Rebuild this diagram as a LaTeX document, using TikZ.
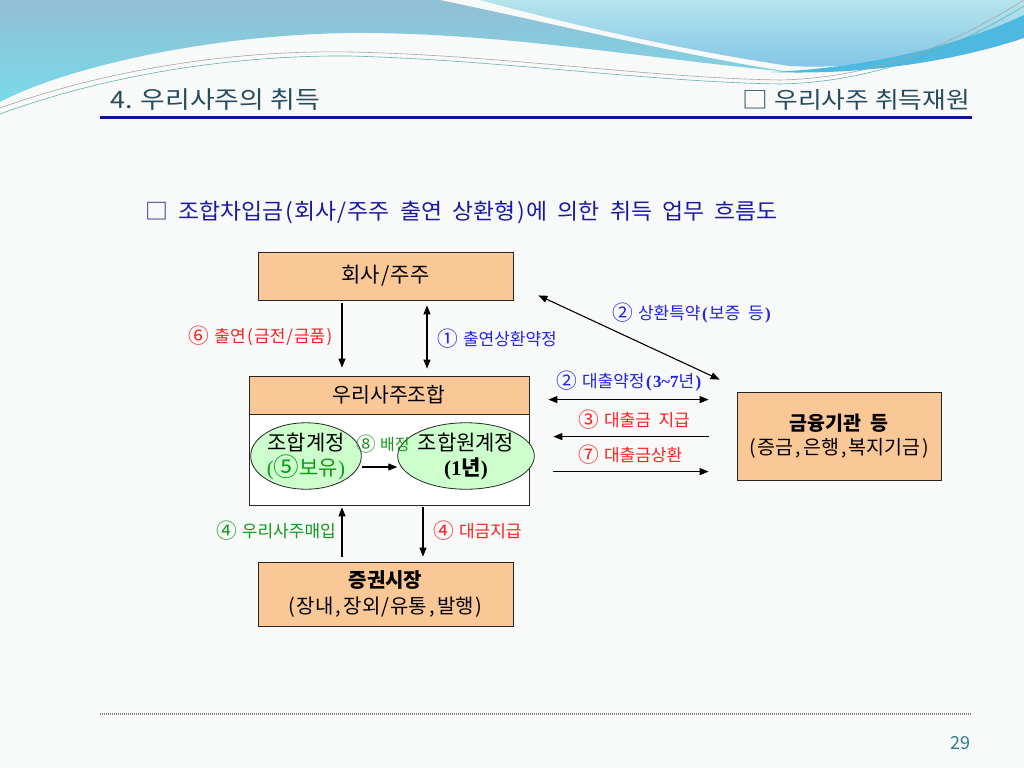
\documentclass[tikz,border=0pt]{standalone}
\usepackage{fontspec}
\setmainfont{Noto Sans CJK KR}[WordSpace=2]
\newfontfamily\krtitle{Noto Sans CJK KR}[FakeStretch=1.12]
\newfontfamily\krsub{Noto Sans CJK KR}[FakeStretch=1.04,WordSpace=2]
\newfontfamily\sr{Liberation Serif}
\newcommand\hwp[1]{\makebox[0.5em]{#1}}
\newcommand\cdg[1]{\raisebox{-0.08em}{\scalebox{1.22}{#1}}}
\usetikzlibrary{arrows.meta,calc,shapes.geometric}
\definecolor{boxor}{HTML}{FAC896}
\definecolor{ellg}{HTML}{CCFFCC}
\definecolor{lblue}{HTML}{2222E6}
\definecolor{lred}{HTML}{FF1E1E}
\definecolor{lgrn}{HTML}{11991A}
\definecolor{subc}{HTML}{1A1AA0}
\definecolor{ttl}{HTML}{274C5E}
\definecolor{uline}{HTML}{1010A0}
\definecolor{pnum}{HTML}{2E7D8C}
\definecolor{bgc}{HTML}{F8F9F9}
\definecolor{decA}{HTML}{92BED4}
\definecolor{decB}{HTML}{78DAE8}
\definecolor{decC}{HTML}{B4E4EC}
\definecolor{decD}{HTML}{82C4E6}
\definecolor{decE}{HTML}{4DB8E0}
\begin{document}
\begin{tikzpicture}[x=1pt,y=-1pt,
  box/.style={draw=black!85, fill=boxor, line width=0.8pt, inner sep=0pt, align=center},
  ell/.style={ellipse, draw=black!85, fill=ellg, line width=0.8pt, inner sep=0pt, align=center,
    font=\fontsize{21}{25}\selectfont},
  arr/.style={-{Triangle[length=9pt,width=7pt]}, line width=1.1pt},
  darr/.style={{Triangle[length=9pt,width=7pt]}-{Triangle[length=9pt,width=7pt]}, line width=1.1pt},
  lbl/.style={inner sep=0pt, font=\fontsize{17}{20}\selectfont}]
% background
\fill[bgc] (0,0) rectangle (1024,768);
\useasboundingbox (0,0) rectangle (1024,768);
% top decoration
\shade[top color=decA, bottom color=decB]
  (0,0) -- (440,0) .. controls (560,25) and (680,55) .. (790,72)
  .. controls (640,58) and (500,32) .. (350,33)
  .. controls (200,35) and (60,70) .. (0,102) -- cycle;
\shade[top color=decC, bottom color=decD]
  (480,0) -- (1024,0) -- (1024,25) .. controls (950,55) and (860,70) .. (790,66)
  .. controls (680,50) and (560,22) .. (480,0) -- cycle;
\fill[decE]
  (1024,15) .. controls (960,45) and (870,68) .. (770,72)
  .. controls (880,76) and (970,56) .. (1024,38) -- cycle;
\draw[gray!70, line width=0.6pt] (0,108) .. controls (120,65) and (250,50) .. (350,52)
  .. controls (500,55) and (650,78) .. (780,80) .. controls (880,78) and (960,40) .. (1024,0);
\draw[teal!60, line width=0.6pt] (0,114) .. controls (120,70) and (250,55) .. (350,56)
  .. controls (500,60) and (650,82) .. (780,84) .. controls (880,82) and (960,45) .. (1024,6);
% header
\node[anchor=west, inner sep=0pt, font=\krtitle\fontsize{24}{24}\selectfont, text=ttl] (title) at (110,100) {4. 우리사주의 취득};
\node[anchor=east, inner sep=0pt, font=\krtitle\fontsize{23}{23}\selectfont, text=ttl] (title2) at (970,100) {□ 우리사주 취득재원};
\draw[uline, line width=3pt] (100,117) -- (972,117);
\node[anchor=west, inner sep=0pt, font=\krsub\fontsize{22}{22}\selectfont, text=subc] (sub) at (145,212)
  {□ 조합차입금\hwp{(}회사\hwp{/}주주 출연 상환형\hwp{)}에 의한 취득 업무 흐름도};
% boxes
\node[box, minimum width=255pt, minimum height=48pt, font=\fontsize{21}{24}\selectfont] (company) at (385.5,276) {회사\hwp{/}주주};
\node[box, fill=white, minimum width=280pt, minimum height=129pt] (union) at (389,440.5) {};
\node[box, minimum width=280pt, minimum height=38pt, font=\fontsize{20.5}{24}\selectfont] (uhead) at (389,395) {우리사주조합};
\node[ell, minimum width=108pt, minimum height=60pt] (acc1) at (306,456) {조합계정\\{\color{lgrn}{\sr(}\cdg{⑤}보유{\sr)}}};
\node[ell, minimum width=112pt, minimum height=62pt] (acc2) at (466,456) {조합원계정\\{\bfseries{\sr(1}년{\sr)}}};
\node[box, minimum width=255pt, minimum height=64pt, font=\fontsize{20}{26}\selectfont] (market) at (385.5,594)
  {\textbf{증권시장}\\\hwp{(}장내\hwp{,}장외\hwp{/}유통\hwp{,}발행\hwp{)}};
\node[box, minimum width=204pt, minimum height=88pt, font=\fontsize{19.5}{24}\selectfont] (bank) at (839,436)
  {\textbf{금융기관 등}\\\hwp{(}증금\hwp{,}은행\hwp{,}복지기금\hwp{)}};
% connectors company - union
\draw[arr, shorten <=3pt, shorten >=8pt] (company.south -| 342,0) -- (uhead.north -| 342,0);
\draw[darr, shorten <=5pt, shorten >=7pt] (company.south -| 427,0) -- (uhead.north -| 427,0);
\node[lbl, anchor=east, text=lred] (l6) at (334,336) {\cdg{⑥}\hspace{0.3em}출연\hwp{(}금전\hwp{/}금품\hwp{)}};
\node[lbl, anchor=west, text=lblue] (l1) at (437,339) {\cdg{①}\hspace{0.3em}출연상환약정};
% diagonal
\coordinate (dA) at ($(company.south east)+(25,-5)$);
\coordinate (dB) at ($(bank.north west)+(-17,-12)$);
\draw[darr] (dA) -- (dB);
\node[lbl, anchor=west, text=lblue] (l2a) at (612,313) {\cdg{②}\hspace{0.3em}상환특약\hwp{\sr\bfseries (}보증 등\hwp{\sr\bfseries )}};
% union - bank
\draw[darr, shorten <=19pt, shorten >=28pt] ($(union.north east)+(0,24)$) -- ($(union.north east -| bank.west)+(0,24)$);
\draw[arr, shorten <=28pt, shorten >=24pt] ($(union.north east -| bank.west)+(0,61)$) -- ($(union.north east)+(0,61)$);
\draw[arr, shorten <=24pt, shorten >=28pt] ($(union.north east)+(0,96)$) -- ($(union.north east -| bank.west)+(0,96)$);
\node[lbl, anchor=west, text=lblue] (l2b) at (556,381) {\cdg{②}\hspace{0.3em}대출약정{\sr\bfseries \hwp{(}\hwp{3}\hwp{\char"7E}\hwp{7}}년\hwp{\sr\bfseries )}};
\node[lbl, anchor=west, text=lred] (l3) at (578,420) {\cdg{③}\hspace{0.3em}대출금 지급};
\node[lbl, anchor=west, text=lred] (l7) at (578,455) {\cdg{⑦}\hspace{0.3em}대출금상환};
% inside union
\draw[arr] ($(acc1.east)+(0,11)$) -- ($(acc2.west)+(0,11)$);
\node[lbl, text=lgrn, font=\fontsize{16}{18}\selectfont] (l8) at (383,444) {\cdg{⑧}\hspace{0.25em}배정};
% union - market
\draw[arr, shorten <=5pt, shorten >=2pt] (market.north -| 342,0) -- (union.south -| 342,0);
\draw[arr, shorten <=2pt, shorten >=5pt] (union.south -| 423,0) -- (market.north -| 423,0);
\node[lbl, anchor=east, text=lgrn] (l4a) at (336,531) {\cdg{④}\hspace{0.3em}우리사주매입};
\node[lbl, anchor=west, text=lred] (l4b) at (433,531) {\cdg{④}\hspace{0.3em}대금지급};
% footer
\draw[gray, line width=1.5pt, dash pattern=on 1pt off 1pt] (100,714) -- (972,714);
\node[anchor=east, inner sep=0pt, font=\fontsize{18}{18}\selectfont, text=pnum] (pg) at (971,743) {29};
\end{tikzpicture}
\end{document}
